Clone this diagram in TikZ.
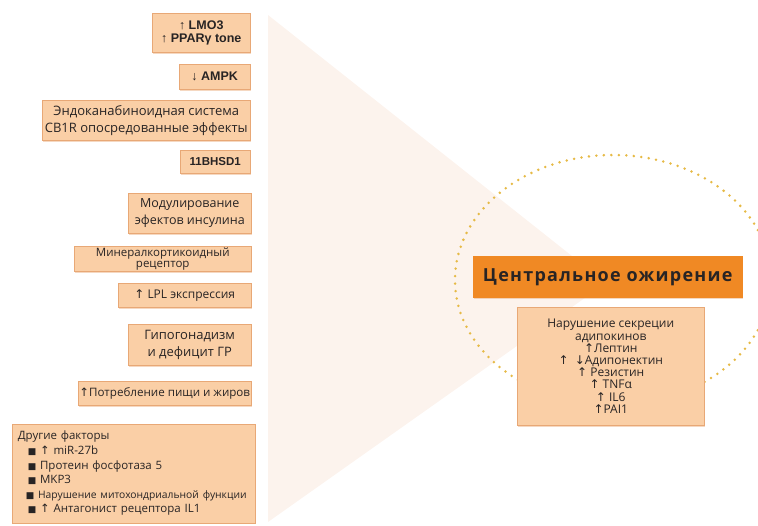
\documentclass[tikz,border=0pt]{standalone}
\usepackage{fontspec}
\setmainfont{Open Sans}
\newfontfamily\headf{Liberation Sans}
\newfontfamily\symf{DejaVu Sans}
\usetikzlibrary{shadows}
\definecolor{boxfill}{RGB}{250,207,166}
\definecolor{boxedge}{RGB}{232,168,118}
\definecolor{keyfill}{RGB}{240,137,36}
\definecolor{conefill}{RGB}{252,243,237}
\definecolor{dotgold}{RGB}{230,186,70}
\definecolor{inkdark}{RGB}{40,36,36}
\newcommand{\uparr}{{\symf ↑}}
\newcommand{\dnarr}{{\symf ↓}}
\newcommand{\sqbul}{{\symf\fontsize{9}{9}\selectfont ■}}
\newcommand{\fs}[2]{\fontsize{#1}{#2}\selectfont}
\tikzset{
  factor/.style={fill=boxfill, draw=boxedge, line width=0.5pt, inner sep=0pt,
    anchor=north west, align=center, text=inkdark,
    drop shadow={shadow xshift=1.2pt, shadow yshift=-1.5pt, opacity=0.45, fill=boxedge}},
  boldfactor/.style={factor, font=\headf\bfseries\fs{12.5}{13}},
  keybox/.style={factor, fill=keyfill, draw=keyfill,
    font=\bfseries\fs{18}{20}\addfontfeature{LetterSpace=7}},
}
\begin{document}
\begin{tikzpicture}[x=1pt, y=-1pt, font=\fs{12.5}{17}]
  \useasboundingbox (0,0) rectangle (758,526);
  \clip (0,0) rectangle (758,526);
  \fill[conefill] (268,15) -- (606,283) -- (268,522) -- cycle;
  \draw[dotgold, line width=2.8pt, line cap=round, dash pattern=on 0pt off 7.5pt]
    (613,280) ellipse [x radius=158, y radius=125];
  \node[boldfactor, minimum width=98, minimum height=39] (lmo) at (152,13)
    {↑ LMO3\\↑ PPARγ tone};
  \node[boldfactor, minimum width=71, minimum height=25] (ampk) at (179,64)
    {↓ AMPK};
  \node[factor, minimum width=208, minimum height=40, font=\fs{13}{17}] (endo) at (42,100)
    {Эндоканабиноидная система\\CB1R опосредованные эффекты};
  \node[boldfactor, minimum width=70, minimum height=23, font=\headf\bfseries\fs{11.5}{13}] (hsd) at (180,150)
    {11BHSD1};
  \node[factor, minimum width=123, minimum height=40] (insul) at (128,193)
    {Модулирование\\эфектов инсулина};
  \node[factor, minimum width=177, minimum height=25, font=\fs{11.5}{11}] (mineral) at (74,246)
    {Минералкортикоидный\\рецептор};
  \node[factor, minimum width=133, minimum height=24, font=\fs{12}{13}] (lpl) at (118,283)
    {\uparr\ LPL экспрессия};
  \node[factor, minimum width=123, minimum height=41, font=\fs{13}{17}] (hypo) at (128,324)
    {Гипогонадизм\\и дефицит ГР};
  \node[factor, minimum width=173, minimum height=24, font=\fs{11.6}{13}] (food) at (78,381)
    {\uparr Потребление пищи и жиров};
  \node[factor, text width=232, align=left, inner xsep=5.5, inner ysep=7,
    font=\fs{11.5}{14.6}] (other) at (12,424)
    {Другие факторы\\
     \hspace*{10pt}\sqbul\ \uparr\ miR-27b\\
     \hspace*{10pt}\sqbul\ Протеин фосфотаза 5\\
     \hspace*{10pt}\sqbul\ MKP3\\
     \hspace*{8pt}\sqbul\ {\fs{10.3}{14.6}Нарушение митохондриальной функции}\\
     \hspace*{10pt}\sqbul\ \uparr\ Антагонист рецептора IL1\\[6pt]};
  \node[keybox, minimum width=269, minimum height=41] (core) at (473,256)
    {Центральное ожирение};
  \node[factor, minimum width=187, minimum height=118, font=\fs{12}{12.2}] (adipo) at (517,307)
    {Нарушение секреции\\адипокинов\\\uparr Лептин\\\uparr\ \ \dnarr Адипонектин\\
     \uparr\ Резистин\\\uparr\ TNFα\\\uparr\ IL6\\\uparr PAI1};
\end{tikzpicture}
\end{document}
